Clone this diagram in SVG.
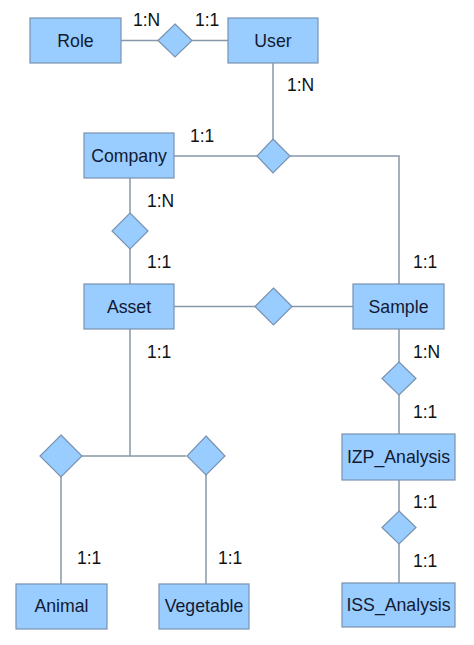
<svg xmlns="http://www.w3.org/2000/svg" width="474" height="645" viewBox="0 0 474 645">
<style>
.ent rect{fill:#99ccff;stroke:#7892b0;stroke-width:1.2}
.ent text{font-family:"Liberation Sans",Arial,sans-serif;font-size:17.7px;fill:#111a33;text-anchor:middle;dominant-baseline:central}
.rel polygon{fill:#99ccff;stroke:#7892b0;stroke-width:1.2}
#connectors path{fill:none;stroke:#8798a8;stroke-width:1.5}
.lbl{font-family:"Liberation Sans",Arial,sans-serif;font-size:17.5px;fill:#111}
</style>
<rect width="474" height="645" fill="#fff"/>
<g id="connectors">
<path d="M121 40.5H158M192 40.5H228"/>
<path d="M273 63V139"/>
<path d="M174 156H257M290 156H399V284"/>
<path d="M130 178V213M130 249V284"/>
<path d="M174 306.5H255M292 306.5H353"/>
<path d="M399 329V362M399 395V434"/>
<path d="M399 480V511M399 544V583"/>
<path d="M130 329V456M82 456H186"/>
<path d="M61 477V584M206 475V584"/>
</g>
<g id="rel-role-user" class="rel"><polygon points="175,24 192,40.5 175,57 158,40.5"/></g>
<g id="rel-user-company" class="rel"><polygon points="273,139 290,156 273,173 257,156"/></g>
<g id="rel-company-asset" class="rel"><polygon points="130,213 148,231 130,249 112,231"/></g>
<g id="rel-asset-sample" class="rel"><polygon points="273.5,288 292,306.5 273.5,325 255,306.5"/></g>
<g id="rel-sample-izp" class="rel"><polygon points="399,362 416,378.5 399,395 382,378.5"/></g>
<g id="rel-izp-iss" class="rel"><polygon points="399,511 416,527.5 399,544 382,527.5"/></g>
<g id="rel-asset-animal" class="rel"><polygon points="61,435 82,456 61,477 40,456"/></g>
<g id="rel-asset-vegetable" class="rel"><polygon points="206,436 225,456 206,475 187,456"/></g>
<g id="role" class="ent"><rect x="30" y="18" width="91" height="45"/><text x="75.5" y="41">Role</text></g>
<g id="user" class="ent"><rect x="228" y="18" width="90" height="45"/><text x="273" y="41">User</text></g>
<g id="company" class="ent"><rect x="84" y="133" width="90" height="45"/><text x="129" y="156">Company</text></g>
<g id="asset" class="ent"><rect x="84" y="284" width="90" height="45"/><text x="129" y="307">Asset</text></g>
<g id="sample" class="ent"><rect x="353" y="284" width="91" height="45"/><text x="398.5" y="307">Sample</text></g>
<g id="izp" class="ent"><rect x="342" y="434" width="113" height="46"/><text x="398.5" y="457">IZP_Analysis</text></g>
<g id="iss" class="ent"><rect x="342" y="583" width="113" height="44"/><text x="398.5" y="605">ISS_Analysis</text></g>
<g id="animal" class="ent"><rect x="16" y="584" width="91" height="45"/><text x="61.5" y="606">Animal</text></g>
<g id="vegetable" class="ent"><rect x="159" y="584" width="90" height="45"/><text x="204" y="606">Vegetable</text></g>
<g id="labels">
<text class="lbl" x="133" y="26">1:N</text>
<text class="lbl" x="195" y="26">1:1</text>
<text class="lbl" x="287" y="91">1:N</text>
<text class="lbl" x="190" y="142">1:1</text>
<text class="lbl" x="147" y="207">1:N</text>
<text class="lbl" x="147" y="268">1:1</text>
<text class="lbl" x="413" y="268">1:1</text>
<text class="lbl" x="147" y="358">1:1</text>
<text class="lbl" x="413" y="358">1:N</text>
<text class="lbl" x="413" y="418">1:1</text>
<text class="lbl" x="413" y="508">1:1</text>
<text class="lbl" x="413" y="567">1:1</text>
<text class="lbl" x="77" y="564">1:1</text>
<text class="lbl" x="218" y="564">1:1</text>
</g>
</svg>
